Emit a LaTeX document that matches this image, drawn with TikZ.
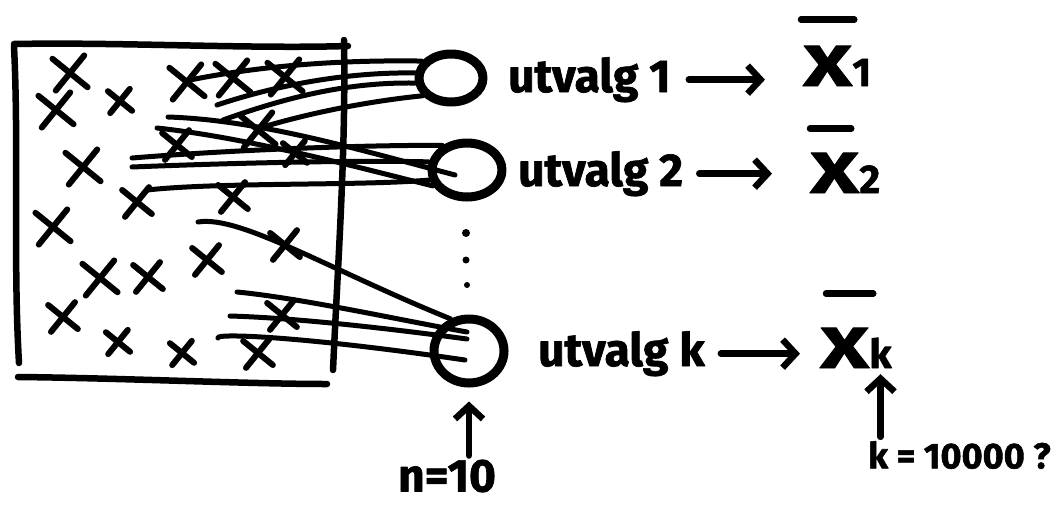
\documentclass[tikz,border=0pt]{standalone}
\usepackage{fontspec}
\setmainfont{Fira Sans}[BoldFeatures={FakeBold=1.5}]
\usetikzlibrary{shapes.misc,shapes.geometric,arrows.meta,calc}
\begin{document}
\begin{tikzpicture}[x=1pt,y=-1pt, line cap=round, line join=round,
  xbig/.style={cross out, draw, line width=6pt, minimum size=26pt, inner sep=0pt, rotate=6},
  xmed/.style={xbig, minimum size=21pt},
  xsml/.style={xbig, minimum size=16pt},
  bag/.style={ellipse, draw, line width=9pt, inner sep=0pt},
  frame/.style={line width=6.5pt},
  link/.style={line width=5pt},
  lbl/.style={font=\fontsize{46}{50}\selectfont\bfseries, inner sep=0pt, anchor=base west},
  bigx/.style={font=\fontsize{58}{60}\selectfont\bfseries, inner sep=0pt, anchor=base west},
  sub/.style={font=\fontsize{40}{42}\selectfont\bfseries, inner sep=0pt, anchor=base west},
  small/.style={font=\fontsize{46}{50}\selectfont\bfseries, inner sep=0pt},
  barline/.style={line width=6.5pt},
  arr/.style={line width=6.5pt, -{Straight Barb[length=13pt,width=28pt,line width=6.5pt]}},
  dotn/.style={circle, fill, inner sep=0pt},
]
\useasboundingbox (0,0) rectangle (1064,504);

% population box
\draw[frame] (14,44) .. controls (120,42) and (250,49) .. (348,46);
\draw[frame] (14,46) .. controls (19,150) and (13,260) .. (19,363);
\draw[frame] (18,377) .. controls (120,378) and (250,384) .. (327,384);
\draw[frame] (344,40) .. controls (346,150) and (338,260) .. (333,370);

% crosses
\node[xbig] (p1) at (70,73) {};
\node[xsml] (p2) at (120,101) {};
\node[xbig] (p3) at (56,110) {};
\node[xbig] (p4) at (187,82) {};
\node[xbig] (p5) at (233,78) {};
\node[xbig] (p6) at (285,77) {};
\node[xbig] (p7) at (258,130) {};
\node[xmed] (p8) at (177,145) {};
\node[xsml] (p9) at (295,153) {};
\node[xbig] (p10) at (83,167) {};
\node[xmed] (p11) at (137,202) {};
\node[xmed] (p12) at (233,197) {};
\node[xbig] (p13) at (53,227) {};
\node[xmed] (p14) at (285,245) {};
\node[xmed] (p15) at (207,260) {};
\node[xbig] (p16) at (100,278) {};
\node[xmed] (p17) at (148,277) {};
\node[xmed] (p18) at (63,317) {};
\node[xmed] (p19) at (282,315) {};
\node[xsml] (p20) at (118,342) {};
\node[xsml] (p21) at (182,353) {};
\node[xmed] (p22) at (258,353) {};

% samples
\node[bag, minimum width=64pt, minimum height=48pt] (c1) at (451,78) {};
\node[bag, minimum width=70pt, minimum height=54pt] (c2) at (467,170) {};
\node[bag, minimum width=70pt, minimum height=64pt] (c3) at (469,351) {};

% dots
\node[dotn, minimum size=8pt] (d1) at (466,233) {};
\node[dotn, minimum size=7pt] (d2) at (466,260) {};
\node[dotn, minimum size=6pt] (d3) at (467,285) {};

% start points of the sampling lines
\coordinate (s1) at (190,80);
\coordinate (s2) at (217,105);
\coordinate (s3) at (223,120);
\coordinate (s4) at (263,127);
\coordinate (s5) at (168,117);
\coordinate (s6) at (157,128);
\coordinate (s7) at (132,158);
\coordinate (s8) at (132,167);
\coordinate (s9) at (147,190);
\coordinate (s10) at (198,222);
\coordinate (s11) at (237,292);
\coordinate (s12) at (230,316);
\coordinate (s13) at (218,338);

% lines to sample 1
\draw[link] (s1) .. controls (270,64) and (350,60) .. (c1.150);
\draw[link] (s2) .. controls (280,84) and (350,72) .. (c1.172);
\draw[link] (s3) .. controls (290,96) and (350,82) .. (c1.188);
\draw[link] (s4) .. controls (320,110) and (380,100) .. (c1.212);
% lines to sample 2
\draw[link] (s5) .. controls (260,120) and (360,150) .. ([shift={(-12,5)}]c2.center);
\draw[link] (s6) .. controls (250,138) and (360,168) .. (c2.205);
\draw[link] (s7) .. controls (230,150) and (360,145) .. (c2.135);
\draw[link] (s8) .. controls (230,163) and (360,160) .. (c2.168);
\draw[link] (s9) .. controls (220,182) and (360,186) .. (c2.195);
% lines to sample k
\draw[link] (s10) .. controls (240,215) and (330,270) .. (c3.120);
\draw[link] (s11) .. controls (300,298) and (400,320) .. ([shift={(-2,-19)}]c3.center);
\draw[link] (s12) .. controls (300,318) and (400,330) .. ([shift={(-2,-12)}]c3.center);
\draw[link] (s13) .. controls (214,333) and (300,336) .. ([shift={(-4,9)}]c3.center);

% labels
\node[lbl] (u1) at (508,92) {utvalg 1};
\node[lbl] (u2) at (518,186) {utvalg 2};
\node[lbl] (u3) at (538,366) {utvalg k};

\node[bigx] (x1) at (803,86) {\scalebox{1.45}[1]{X}};
\node[sub] (sb1) at (x1.base east) {1};
\draw[barline] ($(x1.north west)+(-2,-26)$) -- ($(x1.north east)+(2,-26)$);

\node[bigx] (x2) at (810,193) {\scalebox{1.45}[1]{X}};
\node[sub] (sb2) at (x2.base east) {2};
\draw[barline] ($(x2.north west)+(0,-24)$) -- ($(x2.north east)+(-8,-24)$);

\node[bigx] (x3) at (820,368) {\scalebox{1.45}[1]{X}};
\node[sub] (sb3) at (x3.base east) {k};
\draw[barline] ($(x3.north west)+(6,-34)$) -- ($(x3.north east)+(4,-34)$);

\draw[arr, shorten <=18pt, shorten >=38pt] (u1.east) -- (u1.east -| x1.west);
\draw[arr, shorten <=16pt, shorten >=38pt] (u2.east) -- (u2.east -| x2.west);
\draw[arr, shorten <=16pt, shorten >=20pt] (u3.east) -- (u3.east -| x3.west);

\node[small] (n10) at (447,476) {n=10};
\node[small, anchor=west, font=\fontsize{36}{40}\selectfont\bfseries] (k10) at (868,455) {k = 10000 ?};

\draw[arr, shorten <=4pt, shorten >=14pt] (n10.north -| c3.south) -- (c3.south);
\draw[arr, shorten <=4pt, shorten >=6pt] (k10.north -| sb3.south) -- (sb3.south);
\end{tikzpicture}
\end{document}
